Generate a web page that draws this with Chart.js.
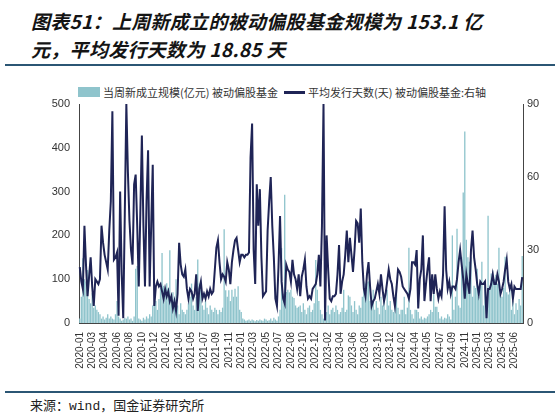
<!DOCTYPE html>
<html>
<head>
<meta charset="utf-8">
<script src="https://cdn.jsdelivr.net/npm/chart.js@4.4.1/dist/chart.umd.min.js"></script>
<style>
  html, body { margin: 0; padding: 0; background: #ffffff; }
  body { width: 559px; height: 416px; position: relative; overflow: hidden; font-family: "Noto Sans CJK SC", "Liberation Sans", sans-serif; }
  #title { position: absolute; left: 31px; top: 7px; font-size: 19px; line-height: 28px; font-weight: bold; font-style: italic; color: #141414; white-space: nowrap; letter-spacing: 0.3px; }
  .rule { position: absolute; left: 5px; width: 550px; height: 2px; background: #2b5674; }
  #legend { position: absolute; top: 84px; left: 0; width: 559px; height: 16px; font-size: 11px; color: #333; }
  .lg { position: absolute; top: 0; line-height: 16px; white-space: nowrap; }
  #source { position: absolute; left: 30px; top: 395px; font-size: 13px; color: #222; white-space: nowrap; }
  #source .m { font-family: "Liberation Mono", "DejaVu Sans Mono", monospace; }
  #wrap { position: absolute; left: 0; top: 70px; width: 559px; height: 320px; }
</style>
</head>
<body>
<div id="title">图表51：上周新成立的被动偏股基金规模为 153.1 亿<br>元，平均发行天数为 18.85 天</div>
<div class="rule" style="top:64px"></div>
<div id="legend">
  <div class="lg" style="left:78px;top:3px;width:22px;height:10px;" id="sw1"></div>
  <div class="lg" style="left:103px;" id="lt1"></div>
  <div class="lg" style="left:284px;top:7px;width:21px;height:2.5px;" id="sw2"></div>
  <div class="lg" style="left:308px;" id="lt2"></div>
</div>
<div id="wrap"><canvas id="c"></canvas></div>
<div class="rule" style="top:391px"></div>
<div id="source">来源：<span class="m">wind</span>，国金证券研究所</div>
<script>
// ---- Data ----
const seriesNames = ['当周新成立规模(亿元) 被动偏股基金', '平均发行天数(天) 被动偏股基金:右轴'];
const tickLabels = ['2020-01','2020-03','2020-04','2020-06','2020-08','2020-10','2020-12','2021-02','2021-04','2021-05','2021-07','2021-09','2021-11','2022-01','2022-03','2022-05','2022-07','2022-08','2022-10','2022-12','2023-02','2023-04','2023-06','2023-08','2023-10','2023-12','2024-02','2024-04','2024-05','2024-07','2024-09','2024-11','2025-01','2025-03','2025-04','2025-06'];
const tickEvery = 8; // one tick label every 8 weeks

// weekly new fund size (亿元), left axis
const newSize = [
  10, 60, 148, 100, 95, 121, 55, 45, 68, 35,
  40, 30, 25, 20, 10, 15, 8, 12, 20, 10,
  15, 10, 8, 20, 50, 15, 10, 5, 8, 12,
  10, 15, 8, 10, 5, 15, 124, 130, 10, 8,
  5, 12, 8, 15, 10, 20, 15, 40, 45, 50,
  30, 55, 80, 160, 85, 70, 91, 80, 166, 60,
  70, 50, 100, 40, 20, 45, 30, 25, 20, 30,
  45, 60, 90, 40, 30, 60, 145, 90, 85, 40,
  30, 50, 35, 20, 40, 30, 25, 35, 30, 20,
  30, 25, 35, 214, 75, 60, 75, 50, 76, 60,
  78, 60, 84, 30, 25, 10, 8, 5, 6, 8,
  5, 8, 6, 4, 7, 5, 8, 6, 5, 10,
  8, 5, 6, 10, 5, 12, 8, 5, 15, 30,
  171, 67, 293, 71, 76, 70, 76, 60, 57, 40,
  35, 37, 40, 25, 45, 30, 20, 35, 40, 25,
  30, 45, 144, 76, 50, 30, 20, 10, 35, 25,
  40, 20, 30, 35, 25, 40, 30, 20, 25, 35,
  76, 25, 30, 63, 60, 40, 25, 50, 30, 20,
  40, 35, 60, 95, 90, 94, 95, 50, 40, 76,
  30, 50, 35, 20, 60, 40, 67, 30, 76, 40,
  50, 30, 25, 40, 84, 35, 20, 30, 30, 60,
  20, 35, 172, 30, 20, 10, 30, 30, 25, 10,
  15, 8, 12, 10, 15, 20, 30, 25, 67, 37,
  37, 25, 10, 15, 8, 12, 10, 20, 15, 8,
  200, 30, 60, 215, 40, 35, 150, 298, 437, 190,
  150, 140, 150, 60, 85, 80, 124, 60, 90, 140,
  40, 82, 60, 245, 82, 113, 120, 100, 110, 90,
  172, 70, 60, 80, 151, 70, 65, 75, 30, 50,
  20, 45, 30, 55, 40, 153.1
];

// average issuance days, right axis
const avgDays = [
  23, 17, 14, 40, 24, 11, 19, 27, 15, 7,
  18, 17, 16, 18, 40, 33, 28, 25, 22, 38,
  50, 87, 26, 27, 29, 3, 54, 20, 2, 45,
  90, 62, 42, 30, 24, 57, 61, 40, 15, 45,
  77, 40, 15, 50, 71, 15, 40, 65, 7, 15,
  17, 15, 16, 13, 10, 14, 11, 13, 9, 11,
  6, 9, 5, 12, 33, 24, 20, 19, 22, 14,
  10, 14, 13, 10, 12, 20, 5, 14, 17, 10,
  12, 10, 13, 11, 14, 12, 13, 22, 31, 34,
  25, 18, 20, 19, 17, 25, 22, 16, 25, 30,
  34, 35, 30, 25, 28, 28, 27, 28, 28, 29,
  68, 82, 30, 16, 57, 40, 55, 27, 11, 12,
  13, 38, 50, 60, 40, 27, 10, 7, 23, 44,
  17, 10, 8, 24, 22, 21, 17, 26, 20, 18,
  14, 20, 11, 19, 22, 26, 15, 10, 11, 10,
  14, 15, 16, 20, 28, 15, 40, 90, 1, 36,
  22, 10, 9, 11, 11, 12, 20, 32, 12, 17,
  20, 28, 38, 25, 35, 28, 21, 30, 42, 41,
  33, 47, 25, 14, 11, 20, 25, 15, 7, 9,
  10, 13, 16, 12, 20, 14, 9, 12, 17, 22,
  18, 16, 11, 7, 14, 22, 21, 19, 15, 14,
  13, 12, 10, 14, 25, 25, 24, 30, 6, 18,
  22, 36, 9, 16, 22, 27, 9, 20, 12, 20,
  14, 10, 13, 11, 20, 48, 22, 14, 17, 12,
  15, 15, 14, 18, 25, 30, 24, 18, 10, 20,
  16, 12, 30, 38, 27, 22, 16, 12, 17, 16,
  16, 17, 2, 14, 14, 16, 20, 16, 16, 20,
  17, 12, 14, 17, 22, 26, 17, 14, 16, 10,
  15, 14, 14, 14, 14, 18.85
];

const leftTicks = { min: 0, max: 500, step: 100 };
const rightTicks = { min: 0, max: 90, step: 30 };

// weekly categories (week index)
const weeks = newSize.map((_, i) => 'W' + (i + 1));

const barColor = '#8fc4cc';
const lineColor = '#1f2456';

document.getElementById('sw1').style.background = barColor;
document.getElementById('sw2').style.background = lineColor;
document.getElementById('lt1').textContent = seriesNames[0];
document.getElementById('lt2').textContent = seriesNames[1];

const tickFont = { family: '"Liberation Sans", Arial, sans-serif', size: 11 };

new Chart(document.getElementById('c'), {
  data: {
    labels: weeks,
    datasets: [
      {
        type: 'line', label: seriesNames[1], data: avgDays, yAxisID: 'y1',
        borderColor: lineColor, backgroundColor: lineColor, borderWidth: 2,
        pointRadius: 0, tension: 0, order: 0
      },
      {
        type: 'bar', label: seriesNames[0], data: newSize, yAxisID: 'y',
        backgroundColor: barColor, borderWidth: 0,
        barPercentage: 0.85, categoryPercentage: 1.0, order: 1
      }
    ]
  },
  options: {
    responsive: true, maintainAspectRatio: false, animation: false,
    layout: { padding: { top: 34, left: 0, right: 0, bottom: 0 } },
    plugins: { legend: { display: false }, tooltip: { enabled: false } },
    scales: {
      x: {
        grid: { display: false, drawTicks: false },
        border: { display: true, color: '#444', width: 1 },
        ticks: {
          autoSkip: false, minRotation: 90, maxRotation: 90, padding: 9,
          font: { family: '"Liberation Sans", Arial, sans-serif', size: 10 }, color: '#333',
          callback: function (v, i) { return i % tickEvery === 0 ? (tickLabels[i / tickEvery] || '') : ''; }
        },
        afterFit: function (s) { s.height = 67; }
      },
      y: {
        position: 'left', min: leftTicks.min, max: leftTicks.max,
        grid: { display: false, drawTicks: false },
        border: { display: true, color: '#444', width: 1 },
        ticks: { stepSize: leftTicks.step, padding: 9, font: tickFont, color: '#333' },
        afterFit: function (s) { s.width = 79; }
      },
      y1: {
        position: 'right', min: rightTicks.min, max: rightTicks.max,
        grid: { display: false, drawTicks: false },
        border: { display: true, color: '#444', width: 1 },
        ticks: { stepSize: rightTicks.step, padding: 4, font: tickFont, color: '#333' },
        afterFit: function (s) { s.width = 36; }
      }
    }
  }
});
</script>
</body>
</html>
